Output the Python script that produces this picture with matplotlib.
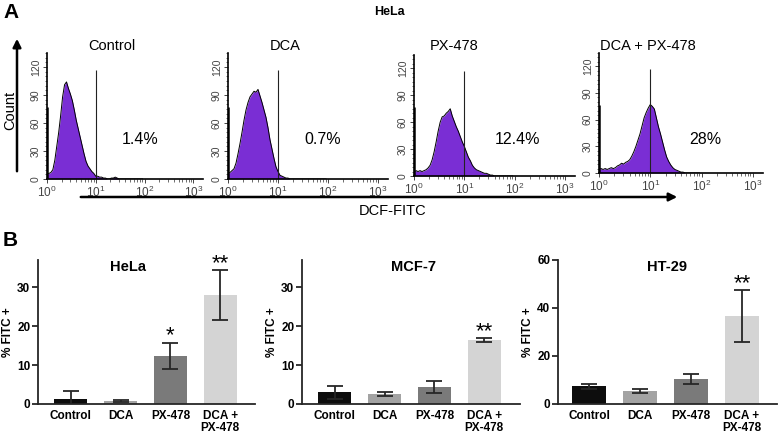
import numpy as np
import matplotlib
matplotlib.use("Agg")
import matplotlib.pyplot as plt
from matplotlib.patches import FancyArrowPatch
from matplotlib.ticker import MultipleLocator, LogLocator, NullFormatter

plt.rcParams["font.family"] = ["Liberation Sans", "DejaVu Sans"]
plt.rcParams["mathtext.fontset"] = "custom"
plt.rcParams["mathtext.rm"] = "Liberation Sans"

W, H = 778, 434

# ---- panel A: flow histograms (counts per log10 bin) ----
HIST_TITLES = ["Control", "DCA", "PX-478", "DCA + PX-478"]
HIST_PCT = ["1.4%", "0.7%", "12.4%", "28%"]
BIN_LOG = np.round(np.arange(0, 2.0, 0.04), 2)
CTRL_COUNTS = [5, 6, 7, 10, 20, 35, 50, 68, 88, 101, 104, 97, 91, 84, 74, 63, 54, 45, 36, 27,
               19, 14, 11, 8, 6, 3, 3, 2, 2, 1, 1, 0, 0, 1, 1, 2, 1, 0, 0, 0,
               0, 0, 0, 0, 0, 0, 0, 0, 0, 0]
DCA_COUNTS = [6, 7, 9, 11, 17, 27, 38, 50, 63, 74, 82, 88, 91, 94, 93, 96, 89, 82, 74, 66,
              55, 42, 32, 22, 13, 8, 4, 3, 2, 1, 1, 0, 0, 0, 0, 0, 0, 0, 0, 0,
              0, 0, 0, 0, 0, 0, 0, 0, 0, 0]
PX_COUNTS = [4, 6, 5, 6, 5, 6, 7, 9, 12, 18, 27, 38, 50, 60, 66, 67, 70, 72, 75, 67,
             61, 55, 50, 44, 38, 33, 27, 21, 17, 12, 9, 7, 6, 5, 4, 3, 3, 2, 1, 1,
             0, 0, 0, 0, 0, 0, 0, 0, 0, 0]
COMBO_COUNTS = [4, 5, 4, 5, 4, 5, 6, 5, 6, 8, 9, 11, 10, 12, 13, 15, 19, 24, 30, 37,
                44, 53, 62, 68, 73, 77, 75, 72, 62, 52, 44, 35, 26, 18, 13, 9, 6, 4, 3, 2,
                1, 1, 0, 0, 0, 0, 0, 0, 0, 0]
PILEUP = [77, 77, 77, 77]
GATE_TOP = 117

# ---- panel B: % FITC+ bars ----
GROUPS = ["Control", "DCA", "PX-478", "DCA +\nPX-478"]
HELA_MEAN = [1.4, 0.7, 12.4, 28.0]
HELA_ERR = [1.9, 0.3, 3.4, 6.4]
MCF7_MEAN = [3.0, 2.6, 4.4, 16.5]
MCF7_ERR = [1.6, 0.55, 1.5, 0.5]
HT29_MEAN = [7.3, 5.4, 10.4, 36.8]
HT29_ERR = [1.1, 0.7, 2.2, 10.8]
HELA_STARS = ["", "", "*", "**"]
MCF7_STARS = ["", "", "", "**"]
HT29_STARS = ["", "", "", "**"]
BAR_COLORS = ["#0d0d0d", "#a3a3a3", "#7a7a7a", "#d4d4d4"]
PURPLE = "#7a2ed4"


def rect(l, t, r, b):
    return [l / W, 1 - b / H, (r - l) / W, (b - t) / H]


fig = plt.figure(figsize=(W / 100, H / 100), dpi=100)

hist_boxes = [(47, 53, 203, 179), (228, 53, 388, 179), (414, 55, 575, 176), (599, 53, 763, 173)]
title_x = [112, 285, 454, 648]
pct_x = [140, 323, 517, 705]
all_counts = [CTRL_COUNTS, DCA_COUNTS, PX_COUNTS, COMBO_COUNTS]

for i, box in enumerate(hist_boxes):
    ax = fig.add_axes(rect(*box))
    x = 10 ** BIN_LOG
    c = np.array(all_counts[i])
    ax.fill_between(x, c, color=PURPLE, lw=0)
    ax.plot(x, c, color="black", lw=0.7)
    ax.vlines(1, 0, PILEUP[i], color="black", lw=1.8)
    ax.vlines(10, 0, GATE_TOP, color="#222222", lw=0.8)
    ax.set_xscale("log")
    ax.set_xlim(1, 10 ** 3.2)
    ax.set_ylim(0, 135)
    ax.set_yticks([0, 30, 60, 90, 120])
    ax.yaxis.set_minor_locator(MultipleLocator(5))
    ax.xaxis.set_major_locator(LogLocator(base=10, numticks=10))
    ax.xaxis.set_minor_locator(LogLocator(base=10, subs=np.arange(2, 10), numticks=10))
    ax.xaxis.set_minor_formatter(NullFormatter())
    for lab in ax.get_yticklabels():
        lab.set_rotation(90)
        lab.set_va("center")
    ax.tick_params(axis="y", which="major", labelsize=7.5, length=3, width=0.7,
                   pad=1.5, colors="#444444")
    ax.tick_params(axis="x", which="major", labelsize=8.5, length=3, width=0.7,
                   pad=1.5, colors="#444444")
    ax.tick_params(axis="both", which="minor", length=1.8, width=0.5, color="#333333")
    for s in ["top", "right"]:
        ax.spines[s].set_visible(False)
    for s in ["left", "bottom"]:
        ax.spines[s].set_linewidth(1.2)
    fig.text(title_x[i] / W, 1 - 46 / H, HIST_TITLES[i], ha="center", va="center", fontsize=10.5)
    fig.text(pct_x[i] / W, 1 - 139 / H, HIST_PCT[i], ha="center", va="center", fontsize=11.5)

# axis arrows for panel A
fig.add_artist(FancyArrowPatch((17 / W, 1 - 174 / H), (17 / W, 1 - 36 / H),
                               transform=fig.transFigure, arrowstyle="-|>",
                               mutation_scale=12, lw=1.8, color="black"))
fig.add_artist(FancyArrowPatch((78 / W, 1 - 197 / H), (680 / W, 1 - 197 / H),
                               transform=fig.transFigure, arrowstyle="-|>",
                               mutation_scale=12, lw=1.8, color="black"))
fig.text(10 / W, 1 - 110 / H, "Count", rotation=90, ha="center", va="center", fontsize=10.5)
fig.text(393 / W, 1 - 211 / H, "DCF-FITC", ha="center", va="center", fontsize=10.5)
fig.text(389 / W, 1 - 12 / H, "HeLa", ha="center", va="center", fontsize=9, weight="bold")
fig.text(3 / W, 1 - 12 / H, "A", ha="left", va="center", fontsize=15, weight="bold")
fig.text(3 / W, 1 - 240 / H, "B", ha="left", va="center", fontsize=15, weight="bold")

# panel B bar charts
bar_sets = [
    ("HeLa", HELA_MEAN, HELA_ERR, HELA_STARS, (38, 260, 255, 404), (-0.66, 3.7), 37, [0, 10, 20, 30], 128),
    ("MCF-7", MCF7_MEAN, MCF7_ERR, MCF7_STARS, (302, 260, 520, 404), (-0.66, 3.72), 37, [0, 10, 20, 30], 413),
    ("HT-29", HT29_MEAN, HT29_ERR, HT29_STARS, (558, 260, 777, 404), (-0.61, 3.69), 60, [0, 20, 40, 60], 667),
]
for name, mean, err, stars, box, xl, ytop, yt, tx in bar_sets:
    ax = fig.add_axes(rect(*box))
    pos = np.arange(len(GROUPS))
    ax.bar(pos, mean, width=0.66, color=BAR_COLORS, zorder=2)
    ax.errorbar(pos, mean, yerr=err, fmt="none", ecolor="#262626", elinewidth=1.3,
                capsize=6, capthick=1.3, zorder=3)
    for p, m, e, s in zip(pos, mean, err, stars):
        if s:
            ax.annotate(s, (p, m + e), xytext=(0, -3), textcoords="offset points",
                        ha="center", va="bottom", fontsize=16)
    ax.set_xlim(*xl)
    ax.set_ylim(0, ytop)
    ax.set_yticks(yt)
    ax.set_xticks(pos)
    ax.set_xticklabels(GROUPS, fontweight="bold", fontsize=8.5, linespacing=1.1)
    for lab in ax.get_yticklabels():
        lab.set_fontweight("bold")
    ax.tick_params(axis="y", labelsize=8.5, length=4, width=1.1, pad=1.5)
    ax.tick_params(axis="x", length=0, pad=4)
    ax.set_ylabel("% FITC +", fontweight="bold", fontsize=8.5, labelpad=2)
    for s in ["top", "right"]:
        ax.spines[s].set_visible(False)
    for s in ["left", "bottom"]:
        ax.spines[s].set_linewidth(1.3)
        ax.spines[s].set_color("#262626")
    fig.text(tx / W, 1 - 267 / H, name, ha="center", va="center", fontsize=10.5, weight="bold")

fig.savefig("out.png", dpi=100)
